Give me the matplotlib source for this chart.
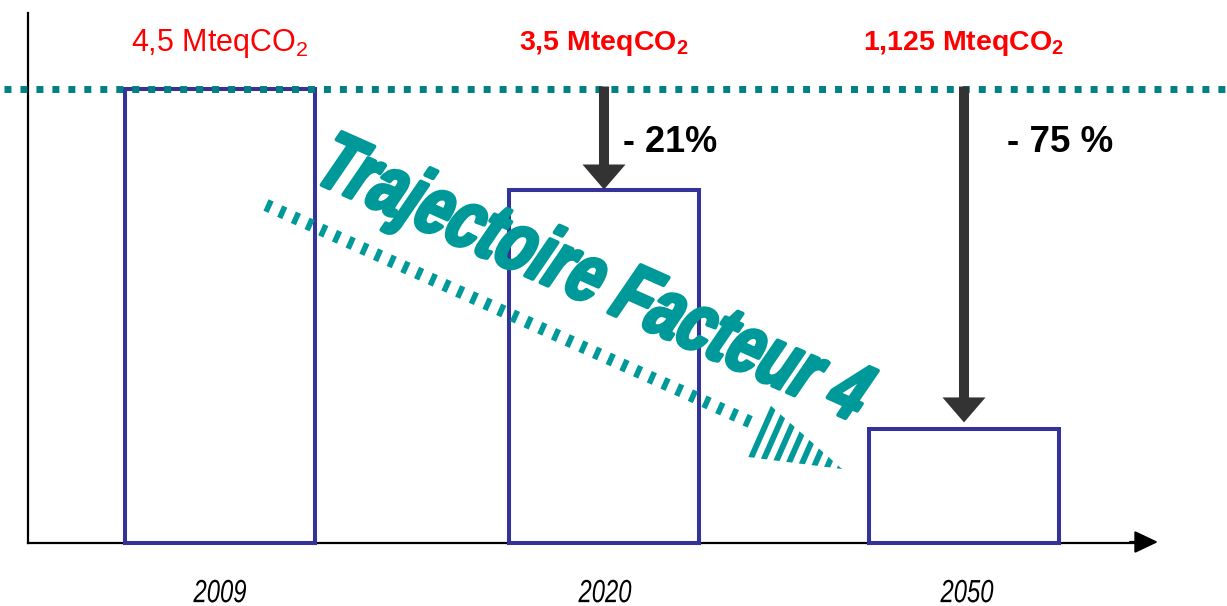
import matplotlib
matplotlib.use("Agg")
import matplotlib.pyplot as plt
from matplotlib.patches import ArrowStyle, Polygon
from matplotlib.patheffects import AbstractPathEffect
from matplotlib.transforms import Affine2D

plt.rcParams['lines.scale_dashes'] = False
plt.rcParams['mathtext.fontset'] = 'custom'
plt.rcParams['mathtext.rm'] = 'Liberation Sans'
plt.rcParams['mathtext.bf'] = 'Liberation Sans:bold'
plt.rcParams['mathtext.default'] = 'rm'

# ---- data ----
years = ["2009", "2020", "2050"]
emissions = [4.5, 3.5, 1.125]          # MteqCO2
reductions = ["- 21%", "- 75 %"]        # relative to 2009, for 2020 and 2050
unit = "MteqCO"
title_text = "Trajectoire Facteur 4"

# ---- layout (pixels) ----
W, H = 1227, 606
x_centers = [220, 604, 964]
bar_w = 190
base_px = 543
px_per_unit = 101.0


class Warp(AbstractPathEffect):
    """Affine warp (condense / skew / rotate) of a text about an anchor, with optional stroke."""
    def __init__(self, axes, anchor, sx=1.0, sy=1.0, skew=0.0, rot=0.0, stroke=0.0, color=None):
        super().__init__()
        self.axes, self.anchor = axes, anchor
        self.sx, self.sy, self.skew, self.rot = sx, sy, skew, rot
        self.stroke, self.color = stroke, color

    def draw_path(self, renderer, gc, tpath, affine, rgbFace=None):
        x0, y0 = self.axes.transData.transform(self.anchor)
        t = (Affine2D().translate(-x0, -y0).skew_deg(self.skew, 0)
             .scale(self.sx, self.sy).rotate_deg(self.rot).translate(x0, y0))
        if self.stroke:
            gc0 = renderer.new_gc()
            gc0.copy_properties(gc)
            gc0.set_linewidth(self.stroke)
            gc0.set_foreground(self.color)
            gc0.set_joinstyle('round')
            renderer.draw_path(gc0, tpath, affine + t, rgbFace)
            gc0.restore()
        else:
            renderer.draw_path(gc, tpath, affine + t, rgbFace)


fig = plt.figure(figsize=(W / 100, H / 100), dpi=100)
fig.patch.set_facecolor('white')

# main data axes (y in MteqCO2)
ax = fig.add_axes([0, 0, 1, 1])
ax.set_xlim(0, W)
ax.set_ylim((base_px - H) / px_per_unit, base_px / px_per_unit)
ax.set_facecolor('none')
for s in ['top', 'right']:
    ax.spines[s].set_visible(False)
ax.spines['left'].set_position(('data', 28))
ax.spines['left'].set_bounds(0, (base_px - 13) / px_per_unit)
ax.spines['bottom'].set_position(('data', 0))
ax.spines['bottom'].set_bounds(28, 1145)
for s in ['left', 'bottom']:
    ax.spines[s].set_linewidth(1.6)
    ax.spines[s].set_color('black')
ax.set_xticks([])
ax.set_yticks([])

ax.bar(x_centers, emissions, width=bar_w, facecolor='none',
       edgecolor='#333399', linewidth=2.9, zorder=3)

# reference level (2009)
ax.axhline(emissions[0], color='#008080', linewidth=5,
           dashes=(5, 6.5), dash_capstyle='butt', zorder=4,
           xmin=4 / W, xmax=1.0)

# reduction arrows
sty = ArrowStyle.Simple(head_length=1.8, head_width=3.1, tail_width=0.72)
top_val = emissions[0] + 2 / px_per_unit
for i, shrink in [(1, 0), (2, 5)]:
    ax.annotate('', xy=(x_centers[i], emissions[i]), xytext=(x_centers[i], top_val),
                arrowprops=dict(arrowstyle=sty, mutation_scale=10, color='#333333',
                                shrinkA=0, shrinkB=shrink, linewidth=0),
                zorder=5)

# decoration axes in pixel coordinates
dx = fig.add_axes([0, 0, 1, 1])
dx.set_xlim(0, W)
dx.set_ylim(H, 0)
dx.axis('off')
dx.set_facecolor('none')

# x-axis arrow head
dx.annotate('', xy=(1158, base_px - 1), xytext=(1130, base_px - 1),
            arrowprops=dict(arrowstyle=ArrowStyle('-|>', head_length=0.4, head_width=0.19),
                            mutation_scale=36, color='black', linewidth=1.6,
                            shrinkA=0, shrinkB=0))

sans = ['Liberation Sans', 'DejaVu Sans']

# value labels
for i, (xc, v) in enumerate(zip(x_centers, emissions)):
    num = f"{v:g}".replace('.', ',')
    if i == 0:
        lab = num + " " + unit + r"$_2$"
    else:
        lab = num + " " + unit + r"$_\mathbf{2}$"
    dx.text(xc, 43, lab, color='#FF0000', fontsize=22 if i == 0 else 20.5,
            fontweight='normal' if i == 0 else 'bold', family=sans,
            ha='center', va='center')

# reduction labels
dx.text(623, 143, reductions[0], fontsize=26, fontweight='bold', family=sans,
        ha='left', va='center', color='black')
dx.text(1007, 143, reductions[1], fontsize=26.5, fontweight='bold', family=sans,
        ha='left', va='center', color='black')

# year labels (condensed italic)
for xc, yr in zip([220, 605, 967], years):
    dx.text(xc, 578, yr, fontsize=22, style='italic', family=sans,
            ha='center', va='top', color='black',
            path_effects=[Warp(dx, (xc, 578), sx=0.78, sy=1.05)])

# striped trajectory arrow
teal = '#009999'
dx.plot([266, 757], [205, 425], color=teal, linewidth=9,
        dashes=(4.0, 6.8), dash_capstyle='butt', zorder=6)
head = Polygon([(770, 405), (748, 457), (842, 469)], closed=True,
               facecolor='none', edgecolor='none')
dx.add_patch(head)
ln, = dx.plot([720, 860], [400, 462], color=teal, linewidth=60,
              dashes=(4.2, 4.6), dash_capstyle='butt', zorder=6)
ln.set_clip_path(head)

# word-art title
anchor = (580, 300)
dx.text(anchor[0], anchor[1], title_text, ha='center', va='baseline',
        fontsize=52, fontweight='bold', family=sans, color=teal, zorder=7,
        path_effects=[Warp(dx, anchor, sx=0.84, sy=1.14, skew=14, rot=-24,
                           stroke=2.8, color=teal)])

fig.savefig('out.png', dpi=100, facecolor='white')
